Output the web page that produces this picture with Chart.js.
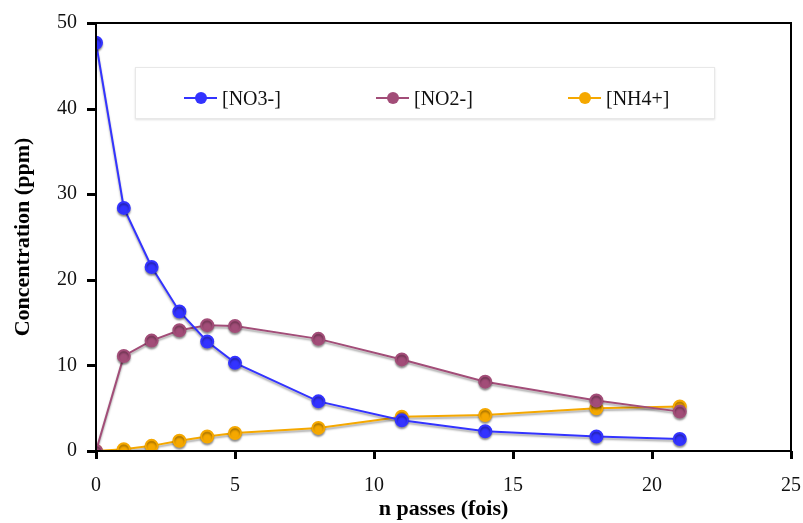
<!DOCTYPE html>
<html>
<head>
<meta charset="utf-8">
<script src="https://cdn.jsdelivr.net/npm/chart.js@4/dist/chart.umd.min.js"></script>
<style>
    html, body { margin: 0; padding: 0; background: #fff; }
    #wrap { position: relative; width: 803px; height: 523px; }
    #legendBox {
        position: absolute; left: 135px; top: 67px; width: 580px; height: 52px;
        border: 1px solid #e8e8e8; box-shadow: 0 1px 2px rgba(0,0,0,0.12);
        background: #fff; box-sizing: border-box;
        font-family: "Liberation Serif", "Times New Roman", serif; font-size: 20px; color: #111;
    }
    .item { position: absolute; top: 18px; height: 24px; line-height: 24px; }
    .mark { position: absolute; left: 0; top: 11px; width: 33px; height: 2px; }
    .dot { position: absolute; left: 11px; top: -5px; width: 12px; height: 12px; border-radius: 50%; }
    .lbl { position: absolute; left: 38px; top: 0; white-space: nowrap; }
</style>
</head>
<body>
<div id="wrap">
    <canvas id="chemChart" width="803" height="523"></canvas>
    <div id="legendBox"></div>
</div>
<script>
// number of passes
const passes = [0, 1, 2, 3, 4, 5, 8, 11, 14, 18, 21];
const no3 = [47.7, 28.4, 21.5, 16.3, 12.8, 10.3, 5.8, 3.6, 2.3, 1.7, 1.4];
const no2 = [0, 11.1, 12.9, 14.1, 14.7, 14.6, 13.1, 10.7, 8.1, 5.9, 4.6];
const nh4 = [0, 0.2, 0.6, 1.2, 1.7, 2.1, 2.7, 4.0, 4.2, 5.0, 5.2];
const seriesNames = ['[NO3-]', '[NO2-]', '[NH4+]'];
const seriesColors = ['#3333ff', '#a24d78', '#f5a800'];
const xTicks = [0, 5, 10, 15, 20, 25];
const yTicks = [0, 10, 20, 30, 40, 50];

const serif = '"Liberation Serif", "Times New Roman", serif';

function toPoints(vals) {
    return vals.map((v, i) => ({ x: passes[i], y: v }));
}

// grey shadow under lines and markers
const shadowPlugin = {
    id: 'markerShadow',
    beforeDatasetDraw(chart) {
        const ctx = chart.ctx;
        ctx.save();
        ctx.shadowColor = 'rgba(0,0,0,0.35)';
        ctx.shadowOffsetX = 0;
        ctx.shadowOffsetY = 2;
        ctx.shadowBlur = 2;
    },
    afterDatasetDraw(chart) {
        chart.ctx.restore();
    }
};

// box round the plot plus outside tick marks
const framePlugin = {
    id: 'frame',
    afterDraw(chart) {
        const a = chart.chartArea;
        const ctx = chart.ctx;
        const xs = chart.scales.x, ys = chart.scales.y;
        ctx.save();
        ctx.strokeStyle = '#000';
        ctx.fillStyle = '#000';
        ctx.lineWidth = 2;
        ctx.strokeRect(a.left, a.top, a.right - a.left, a.bottom - a.top);
        xTicks.forEach(v => {
            const px = Math.round(xs.getPixelForValue(v));
            ctx.fillRect(px - 1, a.bottom, 3, 8);
        });
        yTicks.forEach(v => {
            const py = Math.round(ys.getPixelForValue(v));
            ctx.fillRect(a.left - 9, py - 1, 9, 3);
        });
        ctx.restore();
    }
};

const datasets = [no3, no2, nh4].map((vals, i) => ({
    label: seriesNames[i],
    data: toPoints(vals),
    borderColor: seriesColors[i],
    backgroundColor: seriesColors[i],
    pointBackgroundColor: seriesColors[i],
    pointBorderColor: seriesColors[i],
    borderWidth: 2,
    pointRadius: 6,
    pointHoverRadius: 6,
    tension: 0
}));

const ctx = document.getElementById('chemChart').getContext('2d');
const chemChart = new Chart(ctx, {
    type: 'line',
    data: { datasets: datasets },
    options: {
        responsive: false,
        animation: false,
        layout: { padding: { top: 23, right: 12, left: 0, bottom: 0 } },
        plugins: {
            legend: { display: false },
            tooltip: { enabled: false }
        },
        scales: {
            x: {
                type: 'linear',
                min: 0,
                max: 25,
                afterBuildTicks: (s) => { s.ticks = xTicks.map(v => ({ value: v })); },
                afterFit: (s) => {
                    s.height = 72;
                    s.paddingLeft = 0;
                    s.paddingRight = 0;
                },
                grid: { display: false },
                border: { display: false },
                ticks: { color: '#111', font: { family: serif, size: 20 }, padding: 15, maxRotation: 0 },
                title: {
                    display: true, text: 'n passes (fois)', color: '#000',
                    font: { family: serif, size: 22, weight: 'bold' }, padding: { top: 0, bottom: 0 }
                }
            },
            y: {
                min: 0,
                max: 50,
                afterBuildTicks: (s) => { s.ticks = yTicks.map(v => ({ value: v })); },
                afterFit: (s) => {
                    s.width = 96;
                    s.paddingTop = 0;
                    s.paddingBottom = 0;
                },
                grid: { display: false },
                border: { display: false },
                ticks: { color: '#111', font: { family: serif, size: 20 }, padding: 11 },
                title: {
                    display: true, text: 'Concentration (ppm)', color: '#000',
                    font: { family: serif, size: 22, weight: 'bold' }, padding: { top: 10, bottom: 0 }
                }
            }
        }
    },
    plugins: [shadowPlugin, framePlugin]
});

// html legend built from the series names/colours
const legendBox = document.getElementById('legendBox');
const legendLeft = [48, 240, 432];
seriesNames.forEach((name, i) => {
    const item = document.createElement('div');
    item.className = 'item';
    item.style.left = legendLeft[i] + 'px';
    item.innerHTML = '<div class="mark" style="background:' + seriesColors[i] + '">' +
        '<div class="dot" style="background:' + seriesColors[i] + '"></div></div>' +
        '<span class="lbl">' + name + '</span>';
    legendBox.appendChild(item);
});
</script>
</body>
</html>
